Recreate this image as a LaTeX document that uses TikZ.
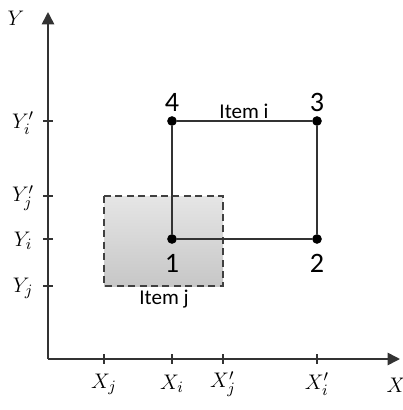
\documentclass[tikz,border=0pt]{standalone}
\usepackage{fontspec}
\newfontfamily\labfont{Carlito}
\usetikzlibrary{arrows.meta}
\definecolor{axiscol}{gray}{0.2}
\tikzset{
  axis/.style={draw=axiscol,line width=0.9pt,-{Triangle[length=7pt,width=7pt]}},
  tickmark/.style={draw=axiscol,line width=0.6pt},
  edge/.style={draw=black!80,line width=0.9pt},
  other/.style={draw=black!75,line width=0.7pt,dashed,dash pattern=on 4pt off 2.5pt,top color=black!10,bottom color=black!22},
  pt/.style={circle,fill=black,inner sep=0pt,minimum size=5.5pt},
  num/.style={font=\labfont\fontsize{16}{16}\selectfont},
  itemlab/.style={font=\labfont\fontsize{12}{12}\selectfont},
  axlab/.style={font=\fontsize{13}{13}\selectfont},
}
\begin{document}
\begin{tikzpicture}[x=0.02cm,y=-0.02cm]
  \useasboundingbox (0,0) rectangle (403,410);
  % item j (dashed, shaded)
  \path[other] (104,196) rectangle (223,286);
  % axes
  \coordinate (O) at (48,359);
  \coordinate (yend) at (48,12);
  \coordinate (xend) at (400,359);
  \draw[axis] (O) -- (yend);
  \draw[axis] (O) -- (xend);
  \node[axlab] (ylab) at (16,18) {$Y$};
  \node[axlab] (xlab) at (396,385) {$X$};
  % ticks on x
  \draw[tickmark] (104,354) -- (104,364);
  \draw[tickmark] (172,354) -- (172,364);
  \draw[tickmark] (223,354) -- (223,364);
  \draw[tickmark] (317,354) -- (317,364);
  \node[axlab] (xj) at (104,384) {$X_j$};
  \node[axlab] (xi) at (172,384) {$X_i$};
  \node[axlab] (xjp) at (223,384) {$X_j'$};
  \node[axlab] (xip) at (317,384) {$X_i'$};
  % ticks on y
  \draw[tickmark] (43,121) -- (53,121);
  \draw[tickmark] (43,196) -- (53,196);
  \draw[tickmark] (43,239) -- (53,239);
  \draw[tickmark] (43,286) -- (53,286);
  \node[axlab] (yip) at (23,123) {$Y_i'$};
  \node[axlab] (yjp) at (23,198) {$Y_j'$};
  \node[axlab] (yi) at (23,241) {$Y_i$};
  \node[axlab] (yj) at (23,288) {$Y_j$};
  % item i corners
  \node[pt] (c1) at (172,239) {};
  \node[pt] (c2) at (317,239) {};
  \node[pt] (c3) at (317,121) {};
  \node[pt] (c4) at (172,121) {};
  \draw[edge] (c1) -- (c2) -- (c3) -- (c4) -- (c1);
  \node[num] (n1) at (172,263) {1};
  \node[num] (n2) at (317,263) {2};
  \node[num] (n3) at (317,102) {3};
  \node[num] (n4) at (172,102) {4};
  \node[itemlab] (li) at (244,111) {Item i};
  \node[itemlab] (lj) at (164,299) {Item j};
\end{tikzpicture}
\end{document}
